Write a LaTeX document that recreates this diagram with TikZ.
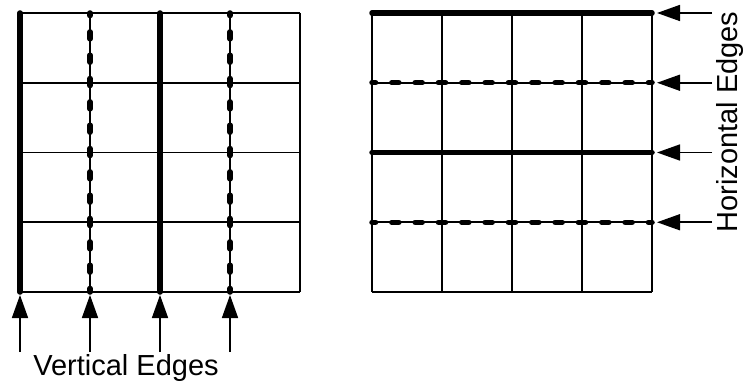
\documentclass[tikz,border=0pt]{standalone}
\usepackage{fontspec}
\setmainfont{Liberation Sans}
\usetikzlibrary{arrows.meta}
\tikzset{
  grid line/.style={line width=1.8pt},
  solid edge/.style={line width=5.5pt, line cap=round},
  dashed edge/.style={line width=5.5pt, line cap=round, dash pattern=on 7pt off 16.33pt, dash phase=3.5pt},
  pointer/.style={line width=1.6pt, shorten >=3pt, -{Triangle[length=23pt,width=16pt]}},
  caption/.style={font=\fontsize{29}{34}\selectfont, inner sep=0pt}
}
\begin{document}
\begin{tikzpicture}[x=1pt, y=-1pt]
  \useasboundingbox (0,0) rectangle (746,382);
  \foreach \i in {0,...,4} {
    \draw[grid line] (20+70*\i,13) -- (20+70*\i,292);
    \draw[grid line] (20,13+69.75*\i) -- (300,13+69.75*\i);
    \draw[grid line] (372+70*\i,13) -- (372+70*\i,292);
    \draw[grid line] (372,13+69.75*\i) -- (652,13+69.75*\i);
  }
  \foreach \n/\x in {1/20,2/90,3/160,4/230} {
    \coordinate (v\n) at (\x,292);
    \coordinate (v\n tail) at (\x,352);
    \draw[pointer] (v\n tail) -- (v\n);
  }
  \foreach \n/\y in {1/13,2/82.75,3/152.5,4/222.25} {
    \coordinate (h\n) at (652,\y);
    \coordinate (h\n tail) at (712,\y);
    \draw[pointer, shorten >=5pt] (h\n tail) -- (h\n);
  }
  \draw[solid edge] (20,13) -- (v1);
  \draw[dashed edge] (v2) -- (90,13);
  \draw[solid edge] (160,13) -- (v3);
  \draw[dashed edge] (v4) -- (230,13);
  \draw[solid edge] (372,13) -- (h1);
  \draw[dashed edge] (372,82.75) -- (h2);
  \draw[solid edge] (372,152.5) -- (h3);
  \draw[dashed edge] (372,222.25) -- (h4);
  \node[caption, anchor=base] (vlabel) at (126,375.5) {Vertical Edges};
  \node[caption, anchor=base, rotate=90] (hlabel) at (737,122) {Horizontal Edges};
\end{tikzpicture}
\end{document}
